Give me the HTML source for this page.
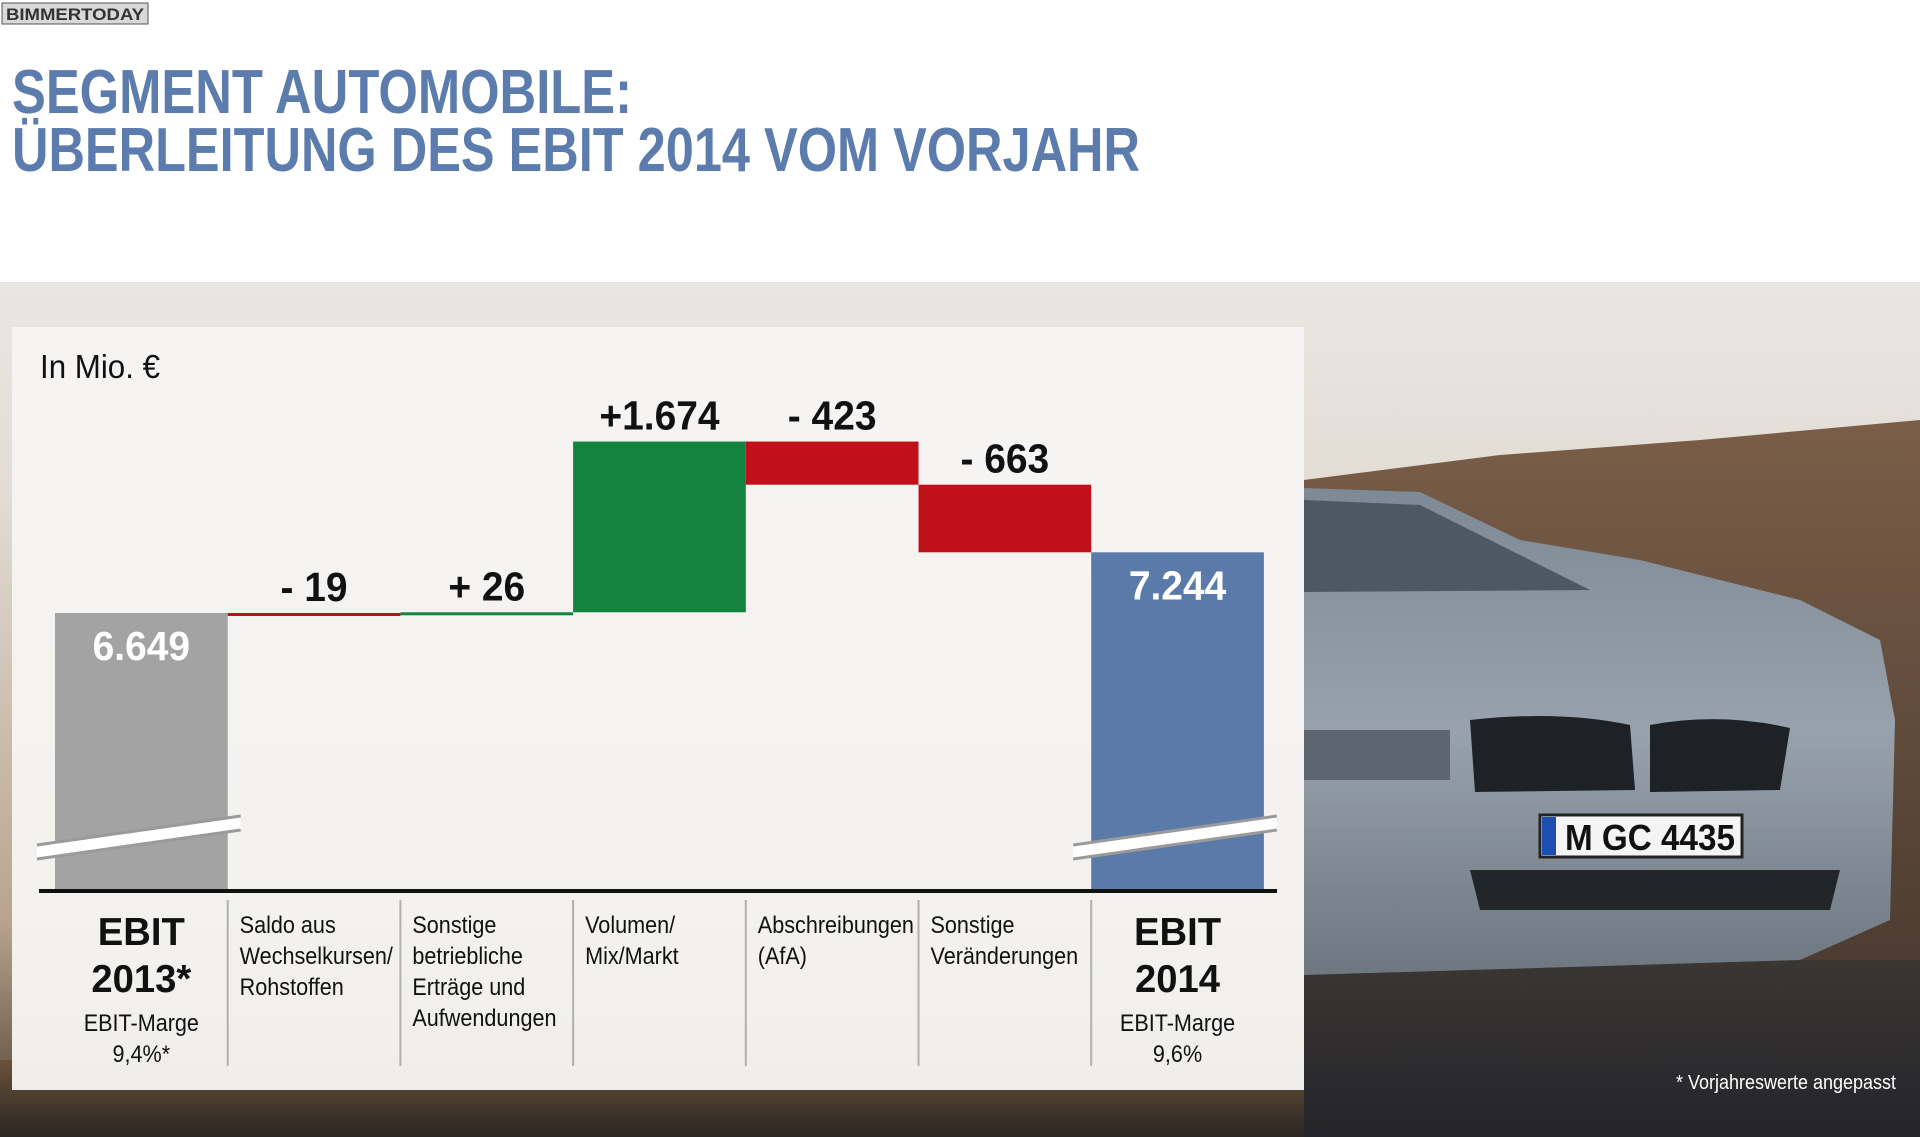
<!DOCTYPE html>
<html><head><meta charset="utf-8"><style>
html,body{margin:0;padding:0;background:#fff;}
svg{display:block;}
text{font-family:"Liberation Sans Narrow","Liberation Sans",sans-serif;}
</style></head><body>
<svg id="chart" width="1920" height="1137" viewBox="0 0 1920 1137" xmlns="http://www.w3.org/2000/svg">
<defs>
<linearGradient id="sky" x1="0" y1="0" x2="0" y2="1">
<stop offset="0" stop-color="#e9e6e2"/><stop offset="0.25" stop-color="#e2dcd4"/><stop offset="0.75" stop-color="#b8a48c"/><stop offset="1" stop-color="#4a3c30"/>
</linearGradient>
<linearGradient id="hill" x1="0" y1="0" x2="0" y2="1">
<stop offset="0" stop-color="#7a5e48"/><stop offset="1" stop-color="#4a3a30"/>
</linearGradient>
<linearGradient id="carbody" x1="0" y1="0" x2="0" y2="1">
<stop offset="0" stop-color="#7d8994"/><stop offset="0.5" stop-color="#98a2ac"/><stop offset="1" stop-color="#6e7780"/>
</linearGradient>
<linearGradient id="road" x1="0" y1="0" x2="0" y2="1">
<stop offset="0" stop-color="#6a5238"/><stop offset="1" stop-color="#2a2622"/>
</linearGradient>
<linearGradient id="road2" x1="0" y1="0" x2="0" y2="1">
<stop offset="0" stop-color="#3a3632"/><stop offset="1" stop-color="#24242a"/>
</linearGradient>
</defs>
<rect x="0" y="0" width="1920" height="282" fill="#ffffff"/>
<g>
<rect x="2" y="3" width="146" height="21" fill="#d8d8d8" stroke="#555" stroke-width="1"/>
<text x="75" y="20" font-size="17" font-weight="bold" fill="#333" text-anchor="middle" textLength="138" lengthAdjust="spacingAndGlyphs">BIMMERTODAY</text>
</g>
<text x="12" y="113" font-size="62" font-weight="bold" fill="#5b7cac" textLength="620" lengthAdjust="spacingAndGlyphs">SEGMENT AUTOMOBILE:</text>
<text x="12" y="171" font-size="62" font-weight="bold" fill="#5b7cac" textLength="1128" lengthAdjust="spacingAndGlyphs">ÜBERLEITUNG DES EBIT 2014 VOM VORJAHR</text>

<g>
<rect x="0" y="282" width="1920" height="855" fill="url(#sky)"/>
<path d="M1304 480 L1500 455 L1700 440 L1920 420 L1920 1000 L1304 1000 Z" fill="url(#hill)"/>
<rect x="0" y="1060" width="1920" height="77" fill="url(#road)"/>
<rect x="1304" y="960" width="616" height="177" fill="url(#road2)"/>
<path d="M1304 488 L1420 492 L1520 540 L1640 560 L1800 600 L1880 640 L1895 720 L1890 920 L1800 960 L1304 975 Z" fill="url(#carbody)"/>
<path d="M1304 500 L1420 505 L1590 590 L1304 592 Z" fill="#4d5862"/>
<path d="M1470 720 Q1560 710 1630 725 L1635 790 L1475 792 Z" fill="#1e2226"/>
<path d="M1650 725 Q1720 712 1790 728 L1780 790 L1650 792 Z" fill="#1e2226"/>
<rect x="1540" y="815" width="202" height="42" fill="#f4f4f4" stroke="#222" stroke-width="3"/>
<rect x="1542" y="817" width="14" height="38" fill="#1d4fb0"/>
<text x="1650" y="850" font-size="36" font-weight="bold" fill="#111" text-anchor="middle" textLength="170" lengthAdjust="spacingAndGlyphs">M GC 4435</text>
<path d="M1470 870 L1840 870 L1830 910 L1480 910 Z" fill="#22262a"/>
<path d="M1304 730 L1450 730 L1450 780 L1304 780 Z" fill="#5d666e"/>
</g>

<rect x="12" y="327" width="1292" height="763" fill="#f6f5f3" fill-opacity="0.96"/>
<text x="40" y="378" font-size="33" fill="#111" textLength="120" lengthAdjust="spacingAndGlyphs">In Mio. €</text>
<g id="bars"></g>
<g id="labels"></g>
<text x="1896" y="1089" font-size="20" fill="#ffffff" text-anchor="end" transform="translate(1896,0) scale(0.9,1) translate(-1896,0)">* Vorjahreswerte angepasst</text>
</svg>
<script>
const categories = [["EBIT","2013*"],["Saldo aus","Wechselkursen/","Rohstoffen"],["Sonstige","betriebliche","Erträge und","Aufwendungen"],["Volumen/","Mix/Markt"],["Abschreibungen","(AfA)"],["Sonstige","Veränderungen"],["EBIT","2014"]];
const values = [6649, -19, 26, 1674, -423, -663, 7244];
const valueLabels = ["6.649","- 19","+ 26","+1.674","- 423","- 663","7.244"];
const marginLabels = [["EBIT-Marge","9,4%*"],null,null,null,null,null,["EBIT-Marge","9,6%"]];
const isTotal = [true,false,false,false,false,false,true];

const NS="http://www.w3.org/2000/svg";
const colX0=55, colW=172.7, axisY=890;
function yScale(v){ return 613 - (v - 6649)*0.102; }
function xScale(i){ return colX0 + i*colW; }
function mk(tag, attrs, parent){ const e=document.createElementNS(NS,tag); for(const k in attrs) e.setAttribute(k, attrs[k]); parent.appendChild(e); return e; }
function squeeze(el, cx, s){ el.setAttribute('transform', `translate(${cx},0) scale(${s},1) translate(${-cx},0)`); }
const gB=document.getElementById('bars'), gL=document.getElementById('labels');

let running=0;
values.forEach((v,i)=>{
  const x=xScale(i);
  let top,bot,fill;
  if(isTotal[i]){
    running=v; top=yScale(v); bot=axisY;
    fill = i===0 ? "#a3a3a3" : "#5a7aaa";
  } else {
    const a=yScale(running), b=yScale(running+v);
    top=Math.min(a,b); bot=Math.max(a,b);
    if(bot-top<3){ bot=top+3; }
    fill = v<0 ? "#c0101a" : "#138440";
    running+=v;
  }
  const r=mk('rect',{x:x,y:top,width:colW,height:bot-top,fill:fill},gB);
  
  
  const t=mk('text',{x:x+colW/2,'text-anchor':'middle','font-size':41,'font-weight':'bold',fill:isTotal[i]?'#ffffff':'#111'},gL);
  t.setAttribute('y', isTotal[i] ? top+47 : top-12);
  t.textContent=valueLabels[i];
  
  
  squeeze(t, x+colW/2, 0.95);
});

[0,6].forEach(i=>{
  const x=xScale(i);
  const g=mk('g',{},gB);
  
  
  const x1=x-18, x2=x+colW+13, y1=852, y2=823;
  mk('polygon',{points:`${x1},${y1-6} ${x2},${y2-6} ${x2},${y2+6} ${x1},${y1+6}`,fill:'#ffffff'},g);
  mk('line',{x1:x1,y1:y1-7,x2:x2,y2:y2-7,stroke:'#9a9a9a','stroke-width':3},g);
  mk('line',{x1:x1,y1:y1+7,x2:x2,y2:y2+7,stroke:'#9a9a9a','stroke-width':3},g);
});

const ax=mk('line',{x1:39,y1:axisY+1,x2:1277,y2:axisY+1,stroke:'#111','stroke-width':4},gB);



for(let i=1;i<7;i++){
  const l=mk('line',{x1:xScale(i),y1:900,x2:xScale(i),y2:1066,stroke:'#b0b0b0','stroke-width':2},gB);
  
  
}

categories.forEach((c,i)=>{
  const x=xScale(i);
  const t=mk('text',{},gL);
  
  
  if(isTotal[i]){
    t.setAttribute('text-anchor','middle'); t.setAttribute('font-size','39'); t.setAttribute('font-weight','bold'); t.setAttribute('fill','#111');
    c.forEach((ln,j)=>{ const s=mk('tspan',{x:x+colW/2,y:945+j*47},t); s.textContent=ln; });
    squeeze(t, x+colW/2, 0.98);
    const m=mk('text',{'text-anchor':'middle','font-size':24,fill:'#111'},gL);
    
    
    marginLabels[i].forEach((ln,j)=>{ const s=mk('tspan',{x:x+colW/2,y:1031+j*31},m); s.textContent=ln; });
    squeeze(m, x+colW/2, 0.9);
  } else {
    t.setAttribute('font-size','24'); t.setAttribute('fill','#111');
    c.forEach((ln,j)=>{ const s=mk('tspan',{x:x+12,y:933+j*31},t); s.textContent=ln; });
    squeeze(t, x+12, 0.9);
  }
});
</script>
</body></html>
